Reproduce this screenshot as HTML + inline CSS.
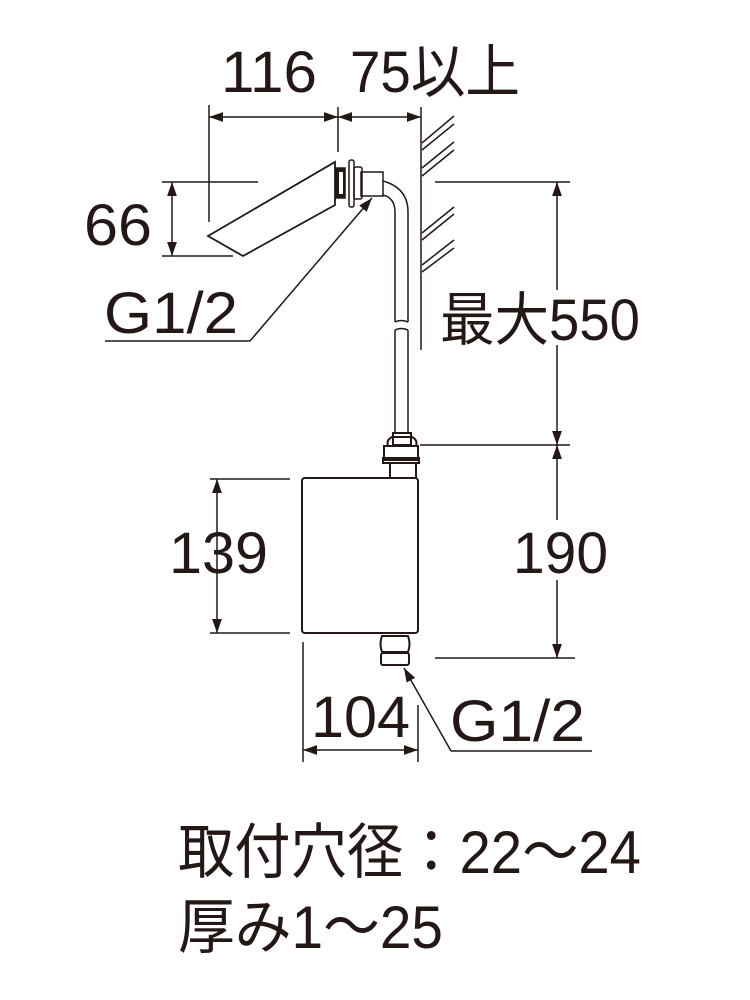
<!DOCTYPE html>
<html><head><meta charset="utf-8"><style>
html,body{margin:0;padding:0;background:#fff;}
svg{display:block;}
text{font-family:"Liberation Sans","Noto Sans CJK JP",sans-serif;fill:#231815;}
</style></head><body>
<svg width="750" height="1000" viewBox="0 0 750 1000" xmlns="http://www.w3.org/2000/svg">
<defs>
<marker id="a" viewBox="0 0 10 10" refX="10" refY="5" markerWidth="14" markerHeight="14" markerUnits="userSpaceOnUse" orient="auto-start-reverse"><path d="M0,1.5 L10,5 L0,8.5 z" fill="#231815"/></marker>
</defs>
<g stroke="#231815" fill="none" stroke-width="1.5">
<line x1="209" y1="105" x2="209" y2="222"/>
<line x1="338" y1="107" x2="338" y2="152"/>
<line x1="421" y1="107" x2="421" y2="350"/>
<line x1="209" y1="117" x2="338" y2="117" marker-start="url(#a)" marker-end="url(#a)"/>
<line x1="338" y1="117" x2="421" y2="117" marker-start="url(#a)" marker-end="url(#a)"/>
<line x1="422" y1="143" x2="454" y2="116"/><line x1="422" y1="150" x2="454" y2="124"/>
<line x1="422" y1="168" x2="454" y2="142"/><line x1="422" y1="176" x2="454" y2="150"/>
<line x1="422" y1="233" x2="454" y2="207"/><line x1="422" y1="240" x2="454" y2="214"/>
<line x1="422" y1="265" x2="454" y2="240"/><line x1="422" y1="272" x2="454" y2="248"/>
<line x1="162" y1="182" x2="258" y2="182"/>
<line x1="162" y1="256" x2="233" y2="256"/>
<line x1="172" y1="182" x2="172" y2="256" marker-start="url(#a)" marker-end="url(#a)"/>
<polygon points="335,162 335,205 243,256 208,236" stroke-width="1.8"/>
<rect x="336" y="168" width="9" height="30" fill="#231815"/>
<rect x="339" y="172" width="4" height="22" fill="#fff" stroke="none"/>
<rect x="349" y="160" width="5" height="47" rx="2"/>
<rect x="354" y="167" width="8" height="32" rx="2"/>
<rect x="361" y="172" width="22" height="24"/>
<path d="M383,181 Q408,188 408,212 L408,322 M383,195 Q395,198 395,212 L395,322"/>
<path d="M395,322 q6,-3 13,0 M395,330 q6,-3 13,0"/>
<path d="M395,330 L395,433 M408,330 L408,433"/>
<rect x="393" y="433" width="18" height="12" stroke-width="2"/>
<line x1="250" y1="341" x2="105" y2="341"/>
<line x1="250" y1="341" x2="372" y2="198" marker-end="url(#a)"/>
<line x1="435" y1="182" x2="570" y2="182"/>
<line x1="420" y1="445" x2="570" y2="445"/>
<line x1="435" y1="658" x2="575" y2="658"/>
<line x1="557" y1="182" x2="557" y2="290" marker-start="url(#a)"/>
<line x1="557" y1="345" x2="557" y2="445" marker-end="url(#a)"/>
<line x1="557" y1="445" x2="557" y2="520" marker-start="url(#a)"/>
<line x1="557" y1="580" x2="557" y2="658" marker-end="url(#a)"/>
<path d="M384,446 h34 v14 h-34 z" stroke-width="2"/>
<path d="M388,446 q-2,-6 4,-9 h20 q6,3 4,9" stroke-width="2"/>
<rect x="383" y="458" width="36" height="5" stroke-width="2"/>
<rect x="390" y="463" width="26" height="15" stroke-width="2"/>
<rect x="302" y="478" width="116" height="155" rx="3" stroke-width="2"/>
<path d="M382,636 q-3,8 0,16 h26 q3,-8 0,-16 z" stroke-width="2"/>
<rect x="381" y="653" width="28" height="12" rx="2" stroke-width="2"/>
<line x1="210" y1="479" x2="290" y2="479"/>
<line x1="210" y1="633" x2="290" y2="633"/>
<line x1="217" y1="479" x2="217" y2="633" marker-start="url(#a)" marker-end="url(#a)"/>
<line x1="303" y1="642" x2="303" y2="762"/>
<line x1="418" y1="705" x2="418" y2="762"/>
<line x1="303" y1="750" x2="418" y2="750" marker-start="url(#a)" marker-end="url(#a)"/>
<line x1="451" y1="751" x2="592" y2="751"/>
<line x1="451" y1="751" x2="404" y2="668" marker-end="url(#a)"/>
</g>
<g font-size="58">
<text x="221" y="92" textLength="96" lengthAdjust="spacingAndGlyphs">116</text>
<text x="350" y="92" textLength="170" lengthAdjust="spacingAndGlyphs">75以上</text>
<text x="84" y="245" textLength="68" lengthAdjust="spacingAndGlyphs">66</text>
<text x="104" y="333" textLength="134" lengthAdjust="spacingAndGlyphs">G1/2</text>
<text x="440" y="340" textLength="200" lengthAdjust="spacingAndGlyphs">最大550</text>
<text x="169" y="573" textLength="99" lengthAdjust="spacingAndGlyphs">139</text>
<text x="513" y="573" textLength="95" lengthAdjust="spacingAndGlyphs">190</text>
<text x="311" y="737" textLength="99" lengthAdjust="spacingAndGlyphs">104</text>
<text x="450" y="741" textLength="135" lengthAdjust="spacingAndGlyphs">G1/2</text>
</g>
<g font-size="60">
<text x="178" y="873" textLength="463" lengthAdjust="spacingAndGlyphs">取付穴径：22～24</text>
<text x="178" y="948" textLength="265" lengthAdjust="spacingAndGlyphs">厚み1～25</text>
</g>
</svg>
</body></html>
